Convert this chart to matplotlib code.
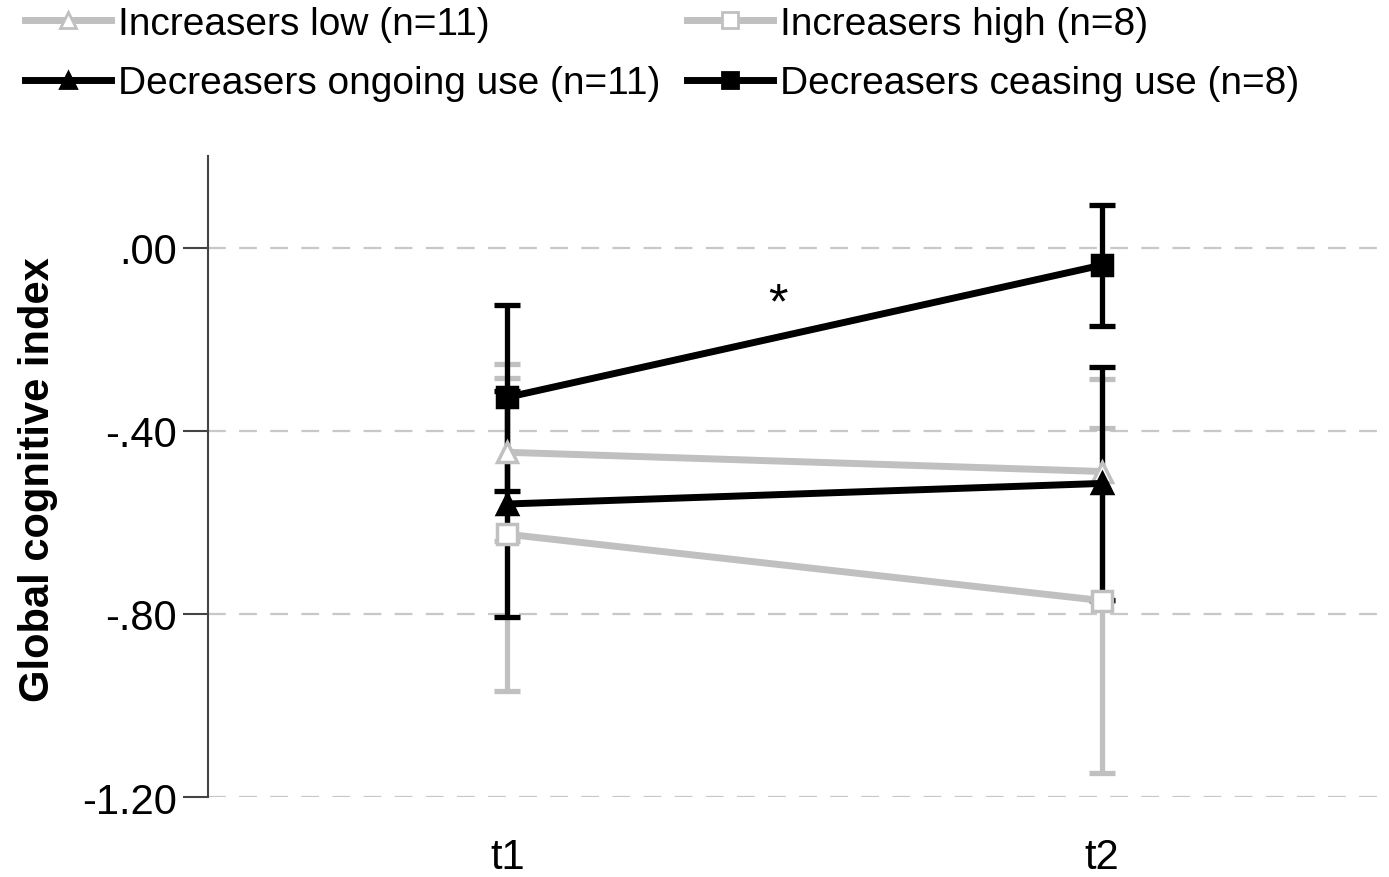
import numpy as np
import matplotlib.pyplot as plt
from matplotlib.lines import Line2D

times = ["t1", "t2"]

labels = ["Increasers low (n=11)", "Increasers high (n=8)",
          "Decreasers ongoing use (n=11)", "Decreasers ceasing use (n=8)"]
inc_low = [-0.447, -0.489]
inc_low_lower = [-0.640, -0.771]
inc_low_upper = [-0.255, -0.288]
inc_high = [-0.626, -0.771]
inc_high_lower = [-0.969, -1.147]
inc_high_upper = [-0.285, -0.395]
dec_ongoing = [-0.560, -0.515]
dec_ongoing_lower = [-0.807, -0.769]
dec_ongoing_upper = [-0.313, -0.261]
dec_ceasing = [-0.327, -0.038]
dec_ceasing_lower = [-0.532, -0.171]
dec_ceasing_upper = [-0.126, 0.094]

yticks = [0.0, -0.4, -0.8, -1.2]
yticklabels = [".00", "-.40", "-.80", "-1.20"]

grey = "#c0c0c0"
arial = ["Liberation Sans", "DejaVu Sans"]

fig = plt.figure(figsize=(13.89, 8.78), dpi=100)
ax = fig.add_axes([0.1497, 0.0911, 0.8503, 0.730])
x = np.arange(len(times))

series = [
    (inc_low, inc_low_lower, inc_low_upper, grey, "^", "white", 2, 4),
    (inc_high, inc_high_lower, inc_high_upper, grey, "s", "white", 2, 4),
    (dec_ongoing, dec_ongoing_lower, dec_ongoing_upper, "black", "^", "black", 3, 5),
    (dec_ceasing, dec_ceasing_lower, dec_ceasing_upper, "black", "s", "black", 3, 5),
]

handles = []
for (vals, lo, hi, col, mk, fc, zerr, zline), lab in zip(series, labels):
    vals = np.array(vals)
    yerr = [vals - np.array(lo), np.array(hi) - vals]
    ax.errorbar(x, vals, yerr=yerr, fmt="none", ecolor=col, elinewidth=3.8,
                capsize=9.5, capthick=3.8, zorder=zerr)
    ms = 15 if mk == "s" else 14
    ax.plot(x, vals, color=col, lw=5, marker=mk, ms=ms, mfc=fc, mec=col,
            mew=2.5, zorder=zline)
    handles.append(Line2D([], [], color=col, lw=5, marker=mk, ms=ms * 0.8,
                          mfc=fc, mec=col, mew=2))

ax.text(0.455, -0.125, "*", ha="center", va="center", fontsize=36,
        family=arial)

for yv in yticks:
    ax.axhline(yv, color="#c8c8c8", lw=1.6, dashes=(8, 6), zorder=1)

ax.set_xlim(-0.503, 1.482)
ax.set_ylim(-1.2, 0.2)
ax.set_xticks(x)
ax.set_xticklabels(times, family=arial, fontsize=30)
ax.set_yticks(yticks)
ax.set_yticklabels(yticklabels, family=arial, fontsize=30)
ax.tick_params(axis="x", length=0, pad=29)
ax.tick_params(axis="y", length=18, width=1.5, color="#444444", pad=4.5)

for s in ["top", "right", "bottom"]:
    ax.spines[s].set_visible(False)
ax.spines["left"].set_color("#444444")
ax.spines["left"].set_linewidth(1.5)

ax.set_ylabel("Global cognitive index", family=arial, fontsize=30,
              fontweight="bold")
ax.yaxis.set_label_coords(-0.127, 0.496)

# legend fills column first, reorder so rows read low/high, ongoing/ceasing
order = [0, 2, 1, 3]
fig.legend([handles[i] for i in order], [labels[i] for i in order],
           loc="upper left", bbox_to_anchor=(0.018, 0.992),
           ncol=2, frameon=False, prop={"family": arial, "size": 28},
           handlelength=2.2, handletextpad=0.2, columnspacing=0.68,
           labelspacing=0.6, borderpad=0, borderaxespad=0)

fig.savefig("out.png", dpi=100)
